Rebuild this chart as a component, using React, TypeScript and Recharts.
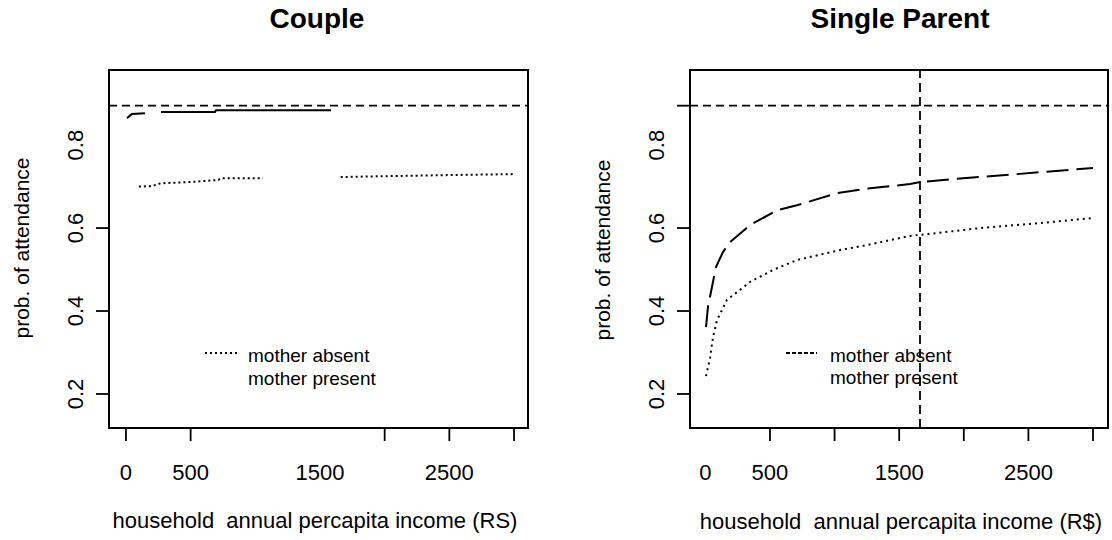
import React from 'react';
import { LineChart, Line, XAxis, YAxis, ReferenceLine, ReferenceArea } from 'recharts';

const FONT = '"Liberation Sans", Arial, sans-serif';

// axis ticks
const xTicks = [0, 500, 1000, 1500, 2000, 2500, 3000];
const xTickLabels = [0, 500, 1500, 2500];
const coupleXTickMarks = [0, 500, 2000, 2500, 3000];
const singleXTickMarks = [500, 1000, 1500, 2000, 2500, 3000];
const yTicks = [0.2, 0.4, 0.6, 0.8, 0.895];
const yTickLabels = [0.2, 0.4, 0.6, 0.8];
const coupleYTickMarks = [0.2, 0.4, 0.6];
const singleYTickMarks = [0.2, 0.4, 0.6, 0.895];

const baselineProb = 0.895;
const singleCutoff = 1661;

const coupleDomainX: [number, number] = [-131, 3108];
const singleDomainX: [number, number] = [-119, 3116];
const domainY: [number, number] = [0.118, 0.981];

// Couple panel
const coupleMotherPresent = [
  { x: 8, y: 0.865 },
  { x: 46, y: 0.875 },
  { x: 147, y: 0.877 },
  { x: 210, y: null },
  { x: 271, y: 0.88 },
  { x: 688, y: 0.88 },
  { x: 696, y: 0.884 },
  { x: 1585, y: 0.884 },
];
const coupleMotherAbsent = [
  { x: 100, y: 0.7 },
  { x: 200, y: 0.701 },
  { x: 270, y: 0.708 },
  { x: 500, y: 0.711 },
  { x: 715, y: 0.716 },
  { x: 730, y: 0.72 },
  { x: 1060, y: 0.72 },
  { x: 1300, y: null },
  { x: 1660, y: 0.723 },
  { x: 2000, y: 0.725 },
  { x: 2560, y: 0.728 },
  { x: 2990, y: 0.73 },
];

// Single parent panel
const singleMotherPresent = [
  { x: 5, y: 0.361 },
  { x: 20, y: 0.41 },
  { x: 51, y: 0.458 },
  { x: 82, y: 0.506 },
  { x: 136, y: 0.542 },
  { x: 190, y: 0.566 },
  { x: 345, y: 0.607 },
  { x: 554, y: 0.643 },
  { x: 709, y: 0.655 },
  { x: 1018, y: 0.684 },
  { x: 1274, y: 0.696 },
  { x: 1584, y: 0.706 },
  { x: 1661, y: 0.711 },
  { x: 1994, y: 0.72 },
  { x: 2412, y: 0.73 },
  { x: 3000, y: 0.745 },
];
const singleMotherAbsent = [
  { x: 5, y: 0.243 },
  { x: 36, y: 0.287 },
  { x: 59, y: 0.337 },
  { x: 90, y: 0.378 },
  { x: 167, y: 0.427 },
  { x: 268, y: 0.451 },
  { x: 345, y: 0.47 },
  { x: 523, y: 0.499 },
  { x: 709, y: 0.523 },
  { x: 1042, y: 0.547 },
  { x: 1251, y: 0.559 },
  { x: 1584, y: 0.581 },
  { x: 1793, y: 0.588 },
  { x: 2126, y: 0.6 },
  { x: 2590, y: 0.612 },
  { x: 2992, y: 0.624 },
];

const TICK = 13;

const makeXTick = (marks: number[]) => (props: any) => {
  const { x, y, payload } = props;
  const v = payload.value;
  const top = y - TICK;
  return (
    <g>
      {marks.includes(v) && <line x1={x} x2={x} y1={top} y2={y} stroke="#000" strokeWidth={1.8} />}
      {xTickLabels.includes(v) && (
        <text x={x} y={top + 52} textAnchor="middle" fontSize={22} fontFamily={FONT} fill="#000">
          {v}
        </text>
      )}
    </g>
  );
};

const makeYTick = (marks: number[]) => (props: any) => {
  const { x, y, payload } = props;
  const v = payload.value;
  const left = x + TICK;
  const bx = left - 26;
  return (
    <g>
      {marks.includes(v) && <line x1={x} x2={left} y1={y} y2={y} stroke="#000" strokeWidth={1.8} />}
      {yTickLabels.includes(v) && (
        <text
          x={bx}
          y={y}
          transform={`rotate(-90 ${bx} ${y})`}
          textAnchor="middle"
          fontSize={22}
          fontFamily={FONT}
          fill="#000"
        >
          {v.toFixed(1)}
        </text>
      )}
    </g>
  );
};

function Panel({
  width,
  marginLeft,
  marginRight,
  domainX,
  xMarks,
  yMarks,
  present,
  absent,
  presentDash,
  absentDash,
  cutoff,
}: any) {
  return (
    <LineChart width={width} height={540} margin={{ top: 70, right: marginRight, left: marginLeft, bottom: 52 }}>
      <XAxis
        type="number"
        dataKey="x"
        domain={domainX}
        allowDataOverflow
        ticks={xTicks}
        interval={0}
        tickSize={TICK}
        tickMargin={0}
        tickLine={false}
        axisLine={false}
        height={60}
        tick={makeXTick(xMarks)}
      />
      <YAxis
        type="number"
        domain={domainY}
        allowDataOverflow
        ticks={yTicks}
        interval={0}
        tickSize={TICK}
        tickMargin={0}
        tickLine={false}
        axisLine={false}
        width={40}
        tick={makeYTick(yMarks)}
      />
      <ReferenceArea
        x1={domainX[0]}
        x2={domainX[1]}
        y1={domainY[0]}
        y2={domainY[1]}
        fill="none"
        stroke="#000"
        strokeWidth={2}
        fillOpacity={0}
        ifOverflow="visible"
      />
      <ReferenceLine y={baselineProb} stroke="#000" strokeWidth={1.8} strokeDasharray="8 5" />
      {cutoff != null && (
        <ReferenceLine x={cutoff} stroke="#000" strokeWidth={1.8} strokeDasharray="9 5" />
      )}
      <Line
        data={present}
        dataKey="y"
        type="linear"
        stroke="#000"
        strokeWidth={2}
        strokeDasharray={presentDash}
        dot={false}
        connectNulls={false}
        isAnimationActive={false}
      />
      <Line
        data={absent}
        dataKey="y"
        type="linear"
        stroke="#000"
        strokeWidth={2}
        strokeDasharray={absentDash}
        dot={false}
        connectNulls={false}
        isAnimationActive={false}
      />
    </LineChart>
  );
}

export default function App() {
  const txt = { fontFamily: FONT, fill: '#000' } as const;
  return (
    <div style={{ position: 'absolute', left: 0, top: 0, width: 1112, height: 540, background: '#fff' }}>
      <div style={{ position: 'absolute', left: 0, top: 0 }}>
        <Panel
          width={556}
          marginLeft={69}
          marginRight={28}
          domainX={coupleDomainX}
          xMarks={coupleXTickMarks}
          yMarks={coupleYTickMarks}
          present={coupleMotherPresent}
          absent={coupleMotherAbsent}
          presentDash={undefined}
          absentDash="2 3"
          cutoff={null}
        />
      </div>
      <div style={{ position: 'absolute', left: 580, top: 0 }}>
        <Panel
          width={532}
          marginLeft={70}
          marginRight={4}
          domainX={singleDomainX}
          xMarks={singleXTickMarks}
          yMarks={singleYTickMarks}
          present={singleMotherPresent}
          absent={singleMotherAbsent}
          presentDash="22 8"
          absentDash="2 4"
          cutoff={singleCutoff}
        />
      </div>
      <svg width={1112} height={540} style={{ position: 'absolute', left: 0, top: 0, pointerEvents: 'none' }}>
        <text x={317} y={28} textAnchor="middle" fontSize={28} fontWeight="bold" {...txt}>Couple</text>
        <text x={900} y={28} textAnchor="middle" fontSize={28} fontWeight="bold" {...txt}>Single Parent</text>

        <text x={315} y={528} textAnchor="middle" fontSize={22} style={{ whiteSpace: 'pre' }} {...txt}>
          {'household  annual percapita income (RS)'}
        </text>
        <text x={901} y={529} textAnchor="middle" fontSize={22} style={{ whiteSpace: 'pre' }} {...txt}>
          {'household  annual percapita income (R$)'}
        </text>

        <text x={29} y={248} transform="rotate(-90 29 248)" textAnchor="middle" fontSize={21} {...txt}>
          prob. of attendance
        </text>
        <text x={610} y={250} transform="rotate(-90 610 250)" textAnchor="middle" fontSize={21} {...txt}>
          prob. of attendance
        </text>

        <line x1={205} x2={237} y1={353} y2={353} stroke="#000" strokeWidth={1.8} strokeDasharray="2 3" />
        <text x={248} y={362} fontSize={19} {...txt}>mother absent</text>
        <text x={248} y={385} fontSize={19} {...txt}>mother present</text>

        <line x1={786} x2={817} y1={353} y2={353} stroke="#000" strokeWidth={1.8} strokeDasharray="4 2" />
        <text x={830} y={362} fontSize={19} {...txt}>mother absent</text>
        <text x={830} y={384} fontSize={19} {...txt}>mother present</text>
      </svg>
    </div>
  );
}
